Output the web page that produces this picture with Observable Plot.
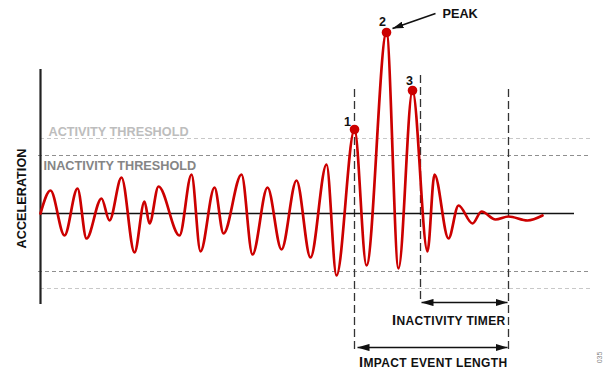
<!DOCTYPE html>
<html><head><meta charset="utf-8">
<script src="https://cdn.jsdelivr.net/npm/d3@7"></script>
<script src="https://cdn.jsdelivr.net/npm/@observablehq/plot@0.6"></script>
<style>html,body{margin:0;padding:0;background:#fff;overflow:hidden}</style>
</head><body><div id="chart"></div>
<script>
// Waveform (local extrema), time in arbitrary units, acceleration in arbitrary units
const waveTime  = [0, 10, 24, 37, 46, 61, 69, 81, 94, 104, 109, 118, 139, 151, 160, 174, 183, 201, 212, 227, 241, 256, 270, 286, 296, 314, 326, 346, 358, 372, 387, 394, 408, 418, 432, 441, 455, 468, 487, 502];
const waveAccel = [0, 2.3, -2.2, 2.5, -2.5, 1.5, -0.7, 3.6, -3.9, 1.2, -1.0, 2.7, -2.2, 3.9, -3.8, 2.6, -2.0, 3.9, -4.1, 2.6, -3.6, 3.3, -4.4, 4.9, -6.2, 8.4, -5.2, 18.1, -5.5, 12.3, -3.8, 3.9, -2.5, 0.8, -1.0, 0.2, -0.6, -0.3, -0.7, -0.2];
const peakTimes  = [314, 346, 372];
const peakAccel  = [8.4, 18.1, 12.3];
const peakLabels = ["1", "2", "3"];
const activityThreshold   = 7.5;
const inactivityThreshold = 5.8;
const impactStart = 314, inactivityStart = 380, eventEnd = 468;
const textLabels = {
  yAxis: "ACCELERATION", activity: "ACTIVITY THRESHOLD", inactivity: "INACTIVITY THRESHOLD",
  peak: "PEAK", timer: "INACTIVITY TIMER", impact: "IMPACT EVENT LENGTH", code: "035"
};

const wave = waveTime.map((t, i) => ({t, a: waveAccel[i]}));
const peaks = peakTimes.map((t, i) => ({t, a: peakAccel[i], label: peakLabels[i]}));
const FONT = "Liberation Sans, Arial, Helvetica, sans-serif";
const RED = "#cc0000";
const peakOffsets = [[-7, -8], [-4, -11], [-3, -10]];

const plot = Plot.plot({
  width: 608, height: 369,
  marginTop: 0, marginRight: 0, marginBottom: 0, marginLeft: 0,
  x: {domain: [-40, 568], axis: null},
  y: {domain: [-15.6, 21.3], axis: null},
  style: {fontFamily: FONT, background: "white"},
  marks: [
    // thresholds
    Plot.ruleY([activityThreshold, -activityThreshold], {x1: 0, x2: 551, stroke: "#c8c8c8", strokeWidth: 1.1, strokeDasharray: "4,3"}),
    Plot.ruleY([inactivityThreshold, -inactivityThreshold], {x1: -2, x2: 549, stroke: "#8f8f8f", strokeWidth: 1.1, strokeDasharray: "4,3"}),
    // event markers
    Plot.ruleX([impactStart], {y1: -13.6, y2: 12.8, stroke: "#333", strokeWidth: 1.3, strokeDasharray: "8,4"}),
    Plot.ruleX([inactivityStart], {y1: -8.6, y2: 14.1, stroke: "#333", strokeWidth: 1.3, strokeDasharray: "8,4"}),
    Plot.ruleX([eventEnd], {y1: -13.6, y2: 12.4, stroke: "#333", strokeWidth: 1.3, strokeDasharray: "8,4"}),
    // axis + zero line
    Plot.ruleX([0], {y1: -9.1, y2: 14.4, stroke: "#222", strokeWidth: 2.2}),
    Plot.ruleY([0], {x1: 0, x2: 534, stroke: "#111", strokeWidth: 1.6}),
    // waveform
    Plot.line(wave, {x: "t", y: "a", curve: "monotone-x", stroke: RED, strokeWidth: 2.7}),
    Plot.dot(peaks, {x: "t", y: "a", r: 4.8, fill: RED}),
    ...peaks.map((p, i) => Plot.text([p], {x: "t", y: "a", text: "label", dx: peakOffsets[i][0], dy: peakOffsets[i][1],
      fontSize: 12.5, fontWeight: "bold", fill: "#111", fontFamily: FONT})),
    // arrows
    Plot.link([0], {x1: [381], x2: [467], y1: [-8.9], y2: [-8.9], stroke: "#111", strokeWidth: 1.7, ariaDescription: "dimension-arrow"}),
    Plot.link([0], {x1: [317], x2: [467], y1: [-13.4], y2: [-13.4], stroke: "#111", strokeWidth: 1.7, ariaDescription: "dimension-arrow"}),
    Plot.link([0], {x1: [395], x2: [352], y1: [20.0], y2: [18.5], stroke: "#111", strokeWidth: 1.6, ariaDescription: "peak-arrow"}),
    // labels
    Plot.text([textLabels.yAxis], {x: [-19], y: [1.5], text: Plot.identity, rotate: -90, textAnchor: "middle", lineAnchor: "middle",
      fontSize: 12.7, fontWeight: "bold", fill: "#111", fontFamily: FONT}),
    Plot.text([textLabels.activity], {x: [8], y: [8.11], text: Plot.identity, textAnchor: "start", lineAnchor: "middle",
      fontSize: 12.7, fontWeight: "bold", fill: "#bdbdbd", fontFamily: FONT}),
    Plot.text([textLabels.inactivity], {x: [3], y: [4.71], text: Plot.identity, textAnchor: "start", lineAnchor: "middle",
      fontSize: 12.7, fontWeight: "bold", fill: "#858585", fontFamily: FONT}),
    Plot.text([textLabels.peak], {x: [402], y: [19.91], text: Plot.identity, textAnchor: "start", lineAnchor: "middle",
      fontSize: 12.7, fontWeight: "bold", fill: "#111", fontFamily: FONT}),
    Plot.text([textLabels.timer], {x: [465], y: [-10.72], text: Plot.identity, textAnchor: "end", lineAnchor: "middle",
      fontSize: 12, fontWeight: "bold", fill: "#111", fontFamily: FONT, ariaDescription: "smallcaps"}),
    Plot.text([textLabels.impact], {x: [467], y: [-14.92], text: Plot.identity, textAnchor: "end", lineAnchor: "middle",
      fontSize: 12, fontWeight: "bold", fill: "#111", fontFamily: FONT, ariaDescription: "smallcaps"}),
    Plot.text([textLabels.code], {x: [559], y: [-14.4], text: Plot.identity, rotate: -90, textAnchor: "middle", lineAnchor: "middle",
      fontSize: 7, fill: "#888", fontFamily: FONT})
  ]
});

// filled arrowheads
const ns = "http://www.w3.org/2000/svg";
const svg = plot.tagName.toLowerCase() === "svg" ? plot : plot.querySelector("svg");
const defs = document.createElementNS(ns, "defs");
function makeMarker(id, len, half) {
  const m = document.createElementNS(ns, "marker");
  m.setAttribute("id", id);
  m.setAttribute("viewBox", `0 ${-half} ${len} ${2 * half}`);
  m.setAttribute("refX", len); m.setAttribute("refY", 0);
  m.setAttribute("markerUnits", "userSpaceOnUse");
  m.setAttribute("markerWidth", len); m.setAttribute("markerHeight", 2 * half);
  m.setAttribute("orient", "auto-start-reverse");
  const p = document.createElementNS(ns, "path");
  p.setAttribute("d", `M0,${-half}L${len},0L0,${half}Z`);
  p.setAttribute("fill", "#111");
  m.appendChild(p);
  defs.appendChild(m);
}
makeMarker("ahDim", 12, 3.6);
makeMarker("ahPeak", 11, 3.4);
svg.insertBefore(defs, svg.firstChild);
const linkGroups = Array.from(svg.querySelectorAll('g[aria-label="link"]'));
linkGroups.forEach((g, i) => {
  const desc = g.getAttribute("aria-description") || (i < 2 ? "dimension-arrow" : "peak-arrow");
  g.querySelectorAll("path").forEach(p => {
    if (desc === "dimension-arrow") {
      p.setAttribute("marker-start", "url(#ahDim)");
      p.setAttribute("marker-end", "url(#ahDim)");
    } else {
      p.setAttribute("marker-end", "url(#ahPeak)");
    }
  });
});
// small-caps style labels
const textGroups = Array.from(svg.querySelectorAll('g[aria-label="text"]'));
const scGroups = textGroups.filter(g => g.getAttribute("aria-description") === "smallcaps");
const targets = scGroups.length ? scGroups : textGroups.filter(g => {
  const t = g.textContent; return t === textLabels.timer || t === textLabels.impact;
});
targets.forEach(g => g.querySelectorAll("text").forEach(el => {
  const s = el.textContent; el.textContent = "";
  const a = document.createElementNS(ns, "tspan"); a.setAttribute("font-size", "14.5"); a.textContent = s[0];
  const b = document.createElementNS(ns, "tspan"); b.setAttribute("font-size", "12"); b.textContent = s.slice(1);
  el.appendChild(a); el.appendChild(b);
  el.setAttribute("letter-spacing", "0.35");
}));
document.getElementById("chart").appendChild(plot);
</script>
</body></html>
